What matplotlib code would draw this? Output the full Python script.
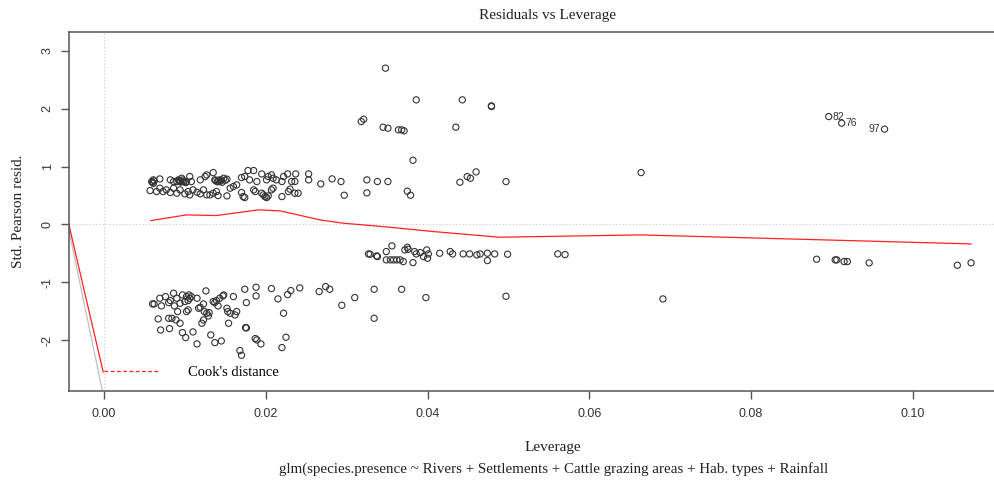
import numpy as np
import matplotlib
matplotlib.use("Agg")
import matplotlib.pyplot as plt
from matplotlib.lines import Line2D

# leverage / std. pearson residuals
lev_top = [0.0059, 0.0061, 0.0069, 0.0082, 0.0086, 0.0090, 0.0094, 0.0098, 0.0102, 0.0096,
           0.0092, 0.0106, 0.0108, 0.0119, 0.0125, 0.0127, 0.0135, 0.0137, 0.0141, 0.0145,
           0.0148, 0.0152, 0.0170, 0.0174, 0.0178, 0.0185, 0.0180, 0.0189, 0.0195, 0.0201,
           0.0203, 0.0207, 0.0209, 0.0213, 0.0220, 0.0222, 0.0227, 0.0232, 0.0236, 0.0237,
           0.0253, 0.0253, 0.0268, 0.0282, 0.0293, 0.0325, 0.0338, 0.0351, 0.0440, 0.0449,
           0.0453, 0.0460, 0.0497, 0.0664,
           0.0060, 0.0062, 0.0061, 0.0093, 0.0095, 0.0097, 0.0099, 0.0101, 0.0138, 0.0140,
           0.0142, 0.0144, 0.0146, 0.0150,
           0.0057, 0.0065, 0.0069, 0.0073, 0.0077, 0.0082, 0.0086, 0.0090, 0.0094, 0.0100,
           0.0104, 0.0106, 0.0110, 0.0115, 0.0119, 0.0123, 0.0127, 0.0131, 0.0135, 0.0139,
           0.0141, 0.0152, 0.0156, 0.0160, 0.0164, 0.0170, 0.0172, 0.0174, 0.0185, 0.0187,
           0.0195, 0.0197, 0.0199, 0.0201, 0.0203, 0.0207, 0.0209, 0.0220, 0.0228, 0.0230,
           0.0236, 0.0240, 0.0297, 0.0325, 0.0375, 0.0379]
res_top = [0.743, 0.772, 0.788, 0.772, 0.743, 0.743, 0.743, 0.743, 0.743, 0.800,
           0.772, 0.830, 0.743, 0.772, 0.830, 0.858, 0.898, 0.772, 0.743, 0.772,
           0.800, 0.783, 0.812, 0.830, 0.933, 0.933, 0.772, 0.743, 0.875, 0.772,
           0.830, 0.858, 0.800, 0.772, 0.743, 0.830, 0.875, 0.743, 0.743, 0.875,
           0.875, 0.772, 0.702, 0.789, 0.743, 0.772, 0.743, 0.743, 0.731, 0.829,
           0.800, 0.910, 0.742, 0.898,
           0.730, 0.755, 0.712, 0.760, 0.735, 0.770, 0.745, 0.725, 0.760, 0.740,
           0.770, 0.750, 0.730, 0.765,
           0.587, 0.570, 0.628, 0.570, 0.599, 0.553, 0.628, 0.541, 0.599, 0.530,
           0.570, 0.512, 0.599, 0.558, 0.530, 0.599, 0.512, 0.512, 0.541, 0.570,
           0.500, 0.495, 0.628, 0.657, 0.685, 0.553, 0.483, 0.466, 0.599, 0.570,
           0.541, 0.512, 0.483, 0.466, 0.495, 0.599, 0.628, 0.483, 0.570, 0.611,
           0.541, 0.541, 0.506, 0.547, 0.576, 0.506]

lev_high = [0.0318, 0.0321, 0.0345, 0.0351, 0.0348, 0.0364, 0.0368, 0.0371, 0.0382, 0.0386,
            0.0435, 0.0443, 0.0479, 0.0479, 0.0896, 0.0912, 0.0965]
res_high = [1.781, 1.821, 1.683, 1.666, 2.704, 1.637, 1.637, 1.620, 1.111, 2.156,
            1.683, 2.156, 2.040, 2.052, 1.867, 1.753, 1.649]

lev_mid = [0.0327, 0.0329, 0.0337, 0.0338, 0.0349, 0.0356, 0.0349, 0.0354, 0.0358, 0.0362,
           0.0366, 0.0370, 0.0372, 0.0375, 0.0376, 0.0382, 0.0384, 0.0386, 0.0391, 0.0395,
           0.0399, 0.0400, 0.0401, 0.0415, 0.0428, 0.0431, 0.0444, 0.0452, 0.0461, 0.0465,
           0.0474, 0.0474, 0.0483, 0.0499, 0.0561, 0.0570, 0.0881, 0.0904, 0.0906, 0.0915,
           0.0919, 0.0946, 0.1055, 0.1072]
res_mid = [-0.509, -0.514, -0.543, -0.555, -0.468, -0.370, -0.612, -0.612, -0.612, -0.612,
           -0.612, -0.641, -0.440, -0.393, -0.428, -0.659, -0.468, -0.509, -0.486, -0.555,
           -0.440, -0.584, -0.509, -0.497, -0.468, -0.509, -0.509, -0.509, -0.526, -0.509,
           -0.497, -0.624, -0.509, -0.514, -0.509, -0.520, -0.601, -0.612, -0.612, -0.641,
           -0.641, -0.664, -0.705, -0.664]

lev_low = [0.0060, 0.0062, 0.0069, 0.0071, 0.0076, 0.0080, 0.0082, 0.0086, 0.0087, 0.0090,
           0.0094, 0.0097, 0.0100, 0.0102, 0.0104, 0.0105, 0.0106, 0.0108, 0.0115, 0.0117,
           0.0119, 0.0126, 0.0123, 0.0124, 0.0127, 0.0135, 0.0137, 0.0139, 0.0143, 0.0147,
           0.0148, 0.0152, 0.0153, 0.0156, 0.0160, 0.0162, 0.0164, 0.0067, 0.0080, 0.0084,
           0.0089, 0.0091, 0.0094, 0.0102, 0.0104, 0.0123, 0.0121, 0.0129, 0.0130, 0.0141,
           0.0154, 0.0174, 0.0176, 0.0175, 0.0188, 0.0188, 0.0207, 0.0215, 0.0222, 0.0227,
           0.0231, 0.0242, 0.0266, 0.0274, 0.0279, 0.0294, 0.0310, 0.0334, 0.0334, 0.0368,
           0.0398, 0.0497, 0.0691,
           0.0070, 0.0081, 0.0097, 0.0101, 0.0110, 0.0115, 0.0132, 0.0137, 0.0145, 0.0168,
           0.0170, 0.0176, 0.0187, 0.0189, 0.0194, 0.0220, 0.0225]
res_low = [-1.374, -1.374, -1.276, -1.408, -1.247, -1.351, -1.316, -1.189, -1.408, -1.276,
           -1.362, -1.218, -1.333, -1.247, -1.316, -1.218, -1.276, -1.247, -1.276, -1.449,
           -1.431, -1.149, -1.374, -1.506, -1.535, -1.333, -1.351, -1.316, -1.276, -1.235,
           -1.218, -1.449, -1.506, -1.535, -1.247, -1.564, -1.506, -1.633, -1.622, -1.622,
           -1.651, -1.506, -1.708, -1.506, -1.477, -1.651, -1.708, -1.581, -1.524, -1.408,
           -1.708, -1.120, -1.351, -1.783, -1.085, -1.235, -1.108, -1.287, -1.535, -1.212,
           -1.143, -1.097, -1.160, -1.074, -1.120, -1.397, -1.264, -1.120, -1.622, -1.120,
           -1.264, -1.241, -1.287,
           -1.824, -1.800, -1.870, -1.956, -1.858, -2.066, -1.910, -2.043, -2.014, -2.181,
           -2.262, -1.789, -1.973, -1.996, -2.066, -2.129, -1.950]

# labelled observations
lab_ids = ["82", "76", "97"]
lab_lev = [0.0896, 0.0912, 0.0965]
lab_res = [1.867, 1.753, 1.649]

# smoother
sm_lev = [0.0058, 0.0102, 0.0139, 0.0191, 0.0218, 0.0267, 0.0296, 0.0345, 0.0407, 0.0489,
          0.0663, 0.0900, 0.1072]
sm_res = [0.068, 0.166, 0.155, 0.253, 0.235, 0.080, 0.022, -0.036, -0.122, -0.220,
          -0.180, -0.270, -0.336]

# cook's distance contour pieces
cook_lev = [-0.0044, -0.0001]
cook_res = [0.03, -2.55]
grey_lev = [-0.0044, -0.0002]
grey_res = [-0.06, -2.88]

lev = lev_top + lev_high + lev_mid + lev_low
res = res_top + res_high + res_mid + res_low

serif = ["Liberation Serif", "DejaVu Serif"]
sans = ["Liberation Sans", "DejaVu Sans"]

fig = plt.figure(figsize=(9.94, 4.8), dpi=100)
ax = fig.add_axes([0.0694, 0.1854, 0.9466, 0.748])

ax.axhline(0, color="#c8c8c8", lw=0.8, ls=(0, (1, 2)), zorder=0)
ax.axvline(0, color="#c8c8c8", lw=0.8, ls=(0, (1, 2)), zorder=0)

ax.scatter(lev, res, s=20, facecolors="none", edgecolors="#333333", linewidths=0.8, zorder=3)
ax.plot(sm_lev, sm_res, color="#ff2020", lw=0.9, zorder=2)
ax.plot(grey_lev, grey_res, color="#c0c0c0", lw=0.9, zorder=1)
ax.plot(cook_lev, cook_res, color="#ff2020", lw=0.9, zorder=2)

for t, x, y in zip(lab_ids, lab_lev, lab_res):
    ha = "right" if t == "97" else "left"
    dx = -0.0006 if t == "97" else 0.0005
    ax.text(x + dx, y, t, ha=ha, va="center", fontsize=7.5, family=sans, color="#333333")

h = Line2D([], [], color="#ff2020", ls=(0, (3, 2)), lw=0.9)
leg = ax.legend([h], ["Cook's distance"], loc="lower left", bbox_to_anchor=(0.029, 0.012),
                frameon=False, handlelength=3.8, handletextpad=2.0, borderpad=0,
                prop={"family": serif, "size": 10.5})

ax.set_xlim(-0.00433, 0.112)
ax.set_ylim(-2.88, 3.33)
ax.set_xticks([0.0, 0.02, 0.04, 0.06, 0.08, 0.10])
ax.set_xticklabels(["0.00", "0.02", "0.04", "0.06", "0.08", "0.10"])
ax.set_yticks([-2, -1, 0, 1, 2, 3])
ax.set_yticklabels(["-2", "-1", "0", "1", "2", "3"], rotation=90, va="center")
ax.tick_params(length=6, width=1, color="#555555", labelsize=9, labelcolor="#333333")
ax.tick_params(axis="x", pad=6.5)
ax.tick_params(axis="y", pad=5)
for lbl in ax.get_xticklabels() + ax.get_yticklabels():
    lbl.set_family(sans)
for s in ax.spines.values():
    s.set_color("#555555")
    s.set_linewidth(1.1)

fig.text(0.551, 0.967, "Residuals vs Leverage", ha="center", va="center",
         family=serif, fontsize=11, color="#222222")
fig.text(0.556, 0.067, "Leverage", ha="center", va="center", family=serif, fontsize=11, color="#222222")
fig.text(0.557, 0.023, "glm(species.presence ~ Rivers + Settlements + Cattle grazing areas + Hab. types + Rainfall",
         ha="center", va="center", family=serif, fontsize=10.8, color="#222222")
fig.text(0.019, 0.56, "Std. Pearson resid.", rotation=90, ha="center", va="center",
         family=serif, fontsize=11, color="#222222")

fig.savefig("out.png", dpi=100)
